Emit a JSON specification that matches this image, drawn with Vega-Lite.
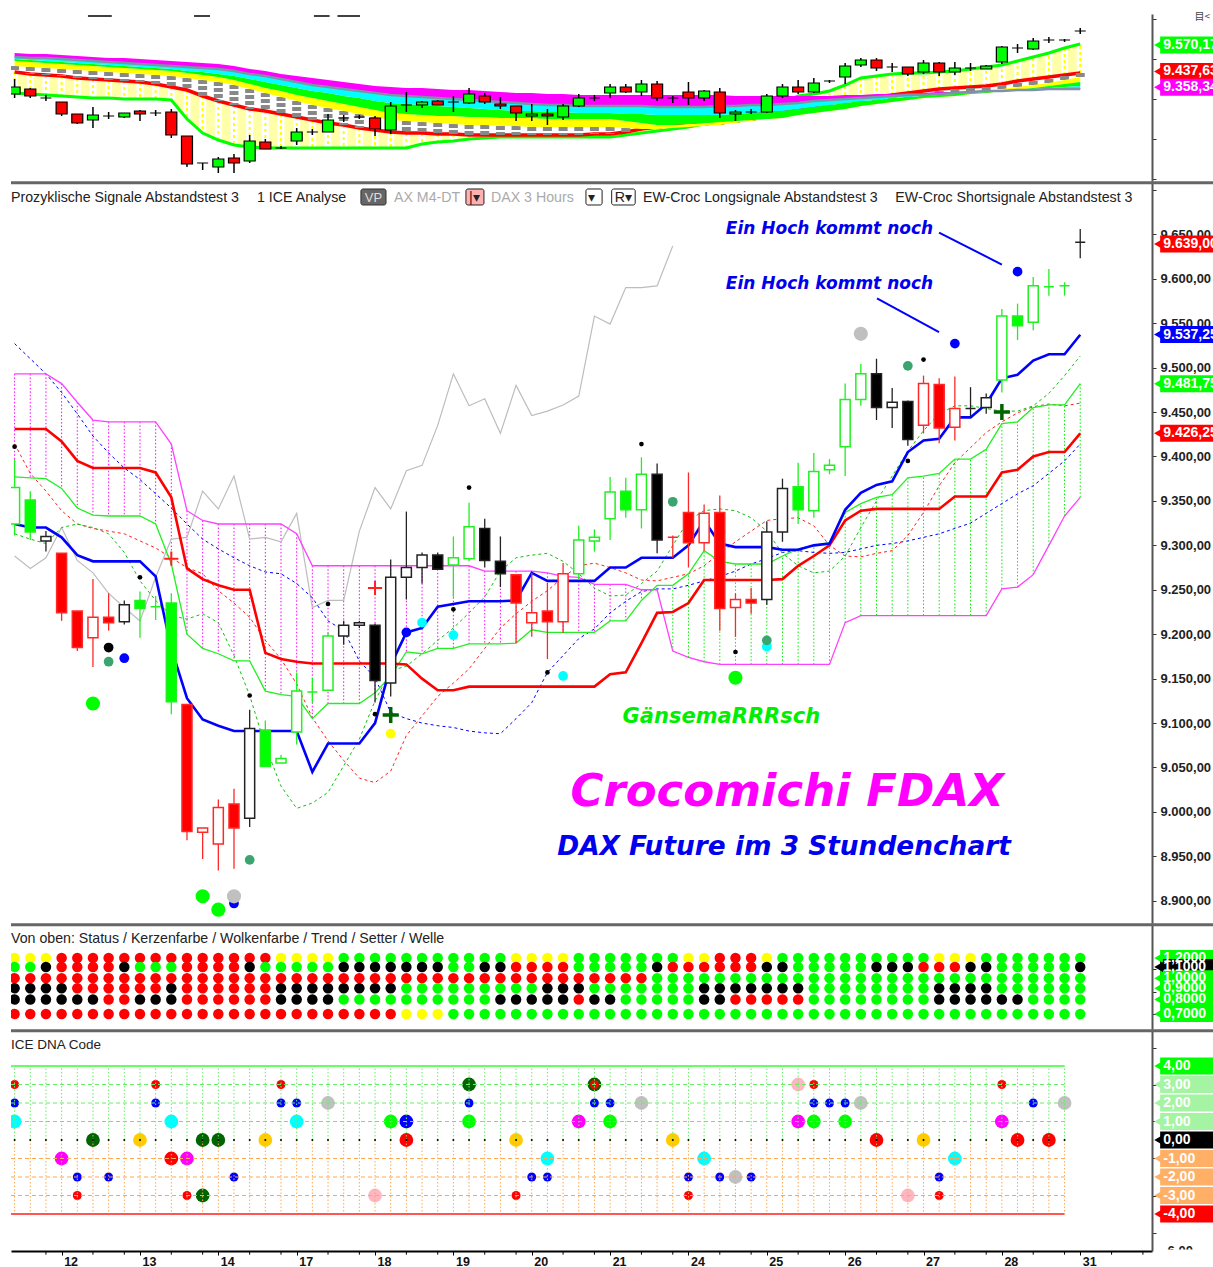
{"$schema":"https://vega.github.io/schema/vega-lite/v6.json","padding":{"left":9,"top":12,"right":0,"bottom":0},"background":"white","spacing":0,"bounds":"flush","config":{"legend":{"disable":true},"view":{"stroke":null},"axis":{"grid":false},"text":{"font":"Liberation Sans"}},
"datasets":{
"top":[
{"i":0,"h":9400,"t":9360,"b":9325,"l":9305,"k":"G","m":9530,"c":9510,"g":9500,"y":9490,"a":9465,"r":9435,"e":9330},
{"i":1,"h":9355,"t":9350,"b":9315,"l":9305,"k":"R","m":9525,"c":9505,"g":9495,"y":9485,"a":9460,"r":9425,"e":9325},
{"i":2,"h":9320,"t":9305,"b":9305,"l":9290,"k":"K","m":9525,"c":9505,"g":9490,"y":9480,"a":9455,"r":9420,"e":9320},
{"i":3,"h":9285,"t":9285,"b":9225,"l":9215,"k":"R","m":9520,"c":9500,"g":9485,"y":9475,"a":9450,"r":9415,"e":9315},
{"i":4,"h":9225,"t":9225,"b":9180,"l":9175,"k":"R","m":9515,"c":9495,"g":9480,"y":9470,"a":9445,"r":9405,"e":9310},
{"i":5,"h":9260,"t":9220,"b":9195,"l":9155,"k":"G","m":9510,"c":9490,"g":9475,"y":9465,"a":9440,"r":9400,"e":9305},
{"i":6,"h":9235,"t":9215,"b":9215,"l":9200,"k":"K","m":9505,"c":9485,"g":9470,"y":9460,"a":9435,"r":9395,"e":9305},
{"i":7,"h":9230,"t":9230,"b":9210,"l":9205,"k":"G","m":9505,"c":9480,"g":9465,"y":9455,"a":9430,"r":9390,"e":9300},
{"i":8,"h":9245,"t":9240,"b":9225,"l":9190,"k":"R","m":9500,"c":9475,"g":9460,"y":9450,"a":9425,"r":9385,"e":9300},
{"i":9,"h":9245,"t":9230,"b":9230,"l":9215,"k":"K","m":9495,"c":9470,"g":9455,"y":9445,"a":9420,"r":9375,"e":9300},
{"i":10,"h":9250,"t":9235,"b":9120,"l":9105,"k":"R","m":9490,"c":9465,"g":9450,"y":9440,"a":9415,"r":9360,"e":9295},
{"i":11,"h":9115,"t":9115,"b":8975,"l":8960,"k":"R","m":9485,"c":9460,"g":9440,"y":9430,"a":9405,"r":9345,"e":9200},
{"i":12,"h":8980,"t":8980,"b":8980,"l":8945,"k":"K","m":9480,"c":9455,"g":9435,"y":9420,"a":9395,"r":9315,"e":9130},
{"i":13,"h":9010,"t":9000,"b":8960,"l":8930,"k":"G","m":9475,"c":9450,"g":9425,"y":9410,"a":9385,"r":9290,"e":9095},
{"i":14,"h":9025,"t":9005,"b":8980,"l":8930,"k":"R","m":9465,"c":9440,"g":9415,"y":9395,"a":9370,"r":9270,"e":9070},
{"i":15,"h":9120,"t":9090,"b":8990,"l":8980,"k":"G","m":9450,"c":9425,"g":9400,"y":9375,"a":9350,"r":9250,"e":9060},
{"i":16,"h":9100,"t":9085,"b":9050,"l":9050,"k":"R","m":9440,"c":9415,"g":9385,"y":9355,"a":9330,"r":9240,"e":9055},
{"i":17,"h":9065,"t":9055,"b":9055,"l":9050,"k":"K","m":9425,"c":9400,"g":9370,"y":9340,"a":9310,"r":9225,"e":9055},
{"i":18,"h":9155,"t":9135,"b":9090,"l":9070,"k":"G","m":9415,"c":9385,"g":9355,"y":9320,"a":9290,"r":9210,"e":9055},
{"i":19,"h":9150,"t":9135,"b":9135,"l":9120,"k":"K","m":9405,"c":9370,"g":9340,"y":9305,"a":9270,"r":9195,"e":9055},
{"i":20,"h":9225,"t":9195,"b":9135,"l":9135,"k":"G","m":9395,"c":9360,"g":9330,"y":9290,"a":9255,"r":9180,"e":9055},
{"i":21,"h":9220,"t":9205,"b":9205,"l":9185,"k":"K","m":9385,"c":9350,"g":9315,"y":9275,"a":9240,"r":9170,"e":9055},
{"i":22,"h":9220,"t":9210,"b":9210,"l":9200,"k":"K","m":9375,"c":9340,"g":9305,"y":9260,"a":9225,"r":9155,"e":9055},
{"i":23,"h":9215,"t":9205,"b":9150,"l":9115,"k":"R","m":9365,"c":9330,"g":9290,"y":9245,"a":9210,"r":9145,"e":9055},
{"i":24,"h":9285,"t":9265,"b":9145,"l":9125,"k":"G","m":9360,"c":9320,"g":9280,"y":9230,"a":9195,"r":9135,"e":9055},
{"i":25,"h":9335,"t":9270,"b":9270,"l":9235,"k":"K","m":9355,"c":9315,"g":9275,"y":9225,"a":9190,"r":9130,"e":9055},
{"i":26,"h":9290,"t":9285,"b":9270,"l":9255,"k":"G","m":9355,"c":9310,"g":9270,"y":9220,"a":9185,"r":9130,"e":9075},
{"i":27,"h":9295,"t":9290,"b":9270,"l":9270,"k":"R","m":9350,"c":9305,"g":9265,"y":9215,"a":9180,"r":9125,"e":9085},
{"i":28,"h":9315,"t":9285,"b":9285,"l":9235,"k":"K","m":9345,"c":9300,"g":9260,"y":9215,"a":9175,"r":9125,"e":9090},
{"i":29,"h":9355,"t":9325,"b":9280,"l":9275,"k":"G","m":9345,"c":9295,"g":9255,"y":9210,"a":9170,"r":9120,"e":9100},
{"i":30,"h":9330,"t":9315,"b":9285,"l":9275,"k":"R","m":9340,"c":9290,"g":9250,"y":9210,"a":9170,"r":9120,"e":9105},
{"i":31,"h":9310,"t":9275,"b":9265,"l":9250,"k":"R","m":9335,"c":9285,"g":9245,"y":9205,"a":9165,"r":9120,"e":9110},
{"i":32,"h":9265,"t":9265,"b":9230,"l":9190,"k":"R","m":9330,"c":9280,"g":9240,"y":9205,"a":9165,"r":9120,"e":9110},
{"i":33,"h":9275,"t":9225,"b":9215,"l":9190,"k":"G","m":9330,"c":9275,"g":9240,"y":9205,"a":9160,"r":9120,"e":9110},
{"i":34,"h":9250,"t":9225,"b":9215,"l":9170,"k":"R","m":9325,"c":9270,"g":9235,"y":9200,"a":9160,"r":9120,"e":9110},
{"i":35,"h":9275,"t":9265,"b":9210,"l":9195,"k":"G","m":9325,"c":9270,"g":9235,"y":9200,"a":9160,"r":9120,"e":9110},
{"i":36,"h":9325,"t":9305,"b":9265,"l":9260,"k":"G","m":9320,"c":9265,"g":9230,"y":9200,"a":9160,"r":9120,"e":9110},
{"i":37,"h":9320,"t":9305,"b":9305,"l":9290,"k":"K","m":9320,"c":9265,"g":9230,"y":9200,"a":9160,"r":9125,"e":9110},
{"i":38,"h":9375,"t":9360,"b":9330,"l":9305,"k":"G","m":9320,"c":9265,"g":9230,"y":9200,"a":9160,"r":9125,"e":9110},
{"i":39,"h":9375,"t":9360,"b":9335,"l":9330,"k":"R","m":9320,"c":9265,"g":9225,"y":9190,"a":9155,"r":9135,"e":9120},
{"i":40,"h":9395,"t":9375,"b":9335,"l":9315,"k":"G","m":9320,"c":9265,"g":9225,"y":9180,"a":9150,"r":9150,"e":9130},
{"i":41,"h":9390,"t":9375,"b":9305,"l":9290,"k":"R","m":9320,"c":9260,"g":9220,"y":9170,"a":9150,"r":9160,"e":9140},
{"i":42,"h":9315,"t":9305,"b":9305,"l":9280,"k":"K","m":9320,"c":9260,"g":9220,"y":9170,"a":9155,"r":9170,"e":9150},
{"i":43,"h":9385,"t":9335,"b":9305,"l":9270,"k":"R","m":9320,"c":9260,"g":9220,"y":9175,"a":9160,"r":9180,"e":9160},
{"i":44,"h":9345,"t":9340,"b":9305,"l":9290,"k":"G","m":9320,"c":9260,"g":9220,"y":9180,"a":9165,"r":9190,"e":9175},
{"i":45,"h":9355,"t":9335,"b":9230,"l":9205,"k":"R","m":9320,"c":9265,"g":9220,"y":9185,"a":9170,"r":9200,"e":9190},
{"i":46,"h":9245,"t":9235,"b":9225,"l":9190,"k":"G","m":9315,"c":9265,"g":9225,"y":9190,"a":9180,"r":9210,"e":9205},
{"i":47,"h":9250,"t":9235,"b":9235,"l":9225,"k":"K","m":9315,"c":9270,"g":9230,"y":9195,"a":9190,"r":9220,"e":9225},
{"i":48,"h":9325,"t":9315,"b":9235,"l":9230,"k":"G","m":9315,"c":9270,"g":9235,"y":9200,"a":9200,"r":9230,"e":9250},
{"i":49,"h":9375,"t":9360,"b":9315,"l":9305,"k":"G","m":9315,"c":9275,"g":9240,"y":9205,"a":9210,"r":9240,"e":9280},
{"i":50,"h":9395,"t":9360,"b":9335,"l":9325,"k":"R","m":9315,"c":9280,"g":9250,"y":9220,"a":9225,"r":9250,"e":9315},
{"i":51,"h":9405,"t":9380,"b":9335,"l":9330,"k":"G","m":9315,"c":9290,"g":9260,"y":9230,"a":9235,"r":9265,"e":9325},
{"i":52,"h":9395,"t":9390,"b":9390,"l":9380,"k":"K","m":9315,"c":9295,"g":9270,"y":9240,"a":9250,"r":9280,"e":9340},
{"i":53,"h":9480,"t":9465,"b":9410,"l":9375,"k":"G","m":9320,"c":9300,"g":9280,"y":9250,"a":9260,"r":9290,"e":9370},
{"i":54,"h":9505,"t":9495,"b":9470,"l":9460,"k":"G","m":9320,"c":9305,"g":9290,"y":9265,"a":9270,"r":9300,"e":9405},
{"i":55,"h":9505,"t":9495,"b":9455,"l":9440,"k":"R","m":9325,"c":9310,"g":9295,"y":9275,"a":9280,"r":9310,"e":9415},
{"i":56,"h":9480,"t":9460,"b":9460,"l":9435,"k":"K","m":9325,"c":9315,"g":9305,"y":9285,"a":9290,"r":9320,"e":9425},
{"i":57,"h":9460,"t":9460,"b":9425,"l":9415,"k":"R","m":9330,"c":9320,"g":9310,"y":9295,"a":9300,"r":9330,"e":9430},
{"i":58,"h":9495,"t":9480,"b":9435,"l":9425,"k":"G","m":9330,"c":9320,"g":9315,"y":9305,"a":9310,"r":9340,"e":9430},
{"i":59,"h":9485,"t":9480,"b":9435,"l":9415,"k":"R","m":9335,"c":9325,"g":9320,"y":9310,"a":9320,"r":9350,"e":9435},
{"i":60,"h":9485,"t":9455,"b":9435,"l":9420,"k":"G","m":9335,"c":9330,"g":9325,"y":9315,"a":9330,"r":9355,"e":9440},
{"i":61,"h":9480,"t":9455,"b":9455,"l":9440,"k":"K","m":9340,"c":9335,"g":9330,"y":9325,"a":9335,"r":9360,"e":9450},
{"i":62,"h":9470,"t":9465,"b":9450,"l":9450,"k":"G","m":9340,"c":9340,"g":9335,"y":9330,"a":9340,"r":9365,"e":9460},
{"i":63,"h":9565,"t":9560,"b":9485,"l":9475,"k":"G","m":9340,"c":9340,"g":9340,"y":9340,"a":9350,"r":9375,"e":9470},
{"i":64,"h":9575,"t":9555,"b":9555,"l":9530,"k":"K","m":9345,"c":9345,"g":9345,"y":9345,"a":9360,"r":9390,"e":9490},
{"i":65,"h":9605,"t":9590,"b":9550,"l":9545,"k":"G","m":9345,"c":9345,"g":9350,"y":9355,"a":9370,"r":9400,"e":9510},
{"i":66,"h":9610,"t":9595,"b":9595,"l":9580,"k":"K","m":9350,"c":9350,"g":9355,"y":9365,"a":9380,"r":9410,"e":9530},
{"i":67,"h":9600,"t":9595,"b":9595,"l":9585,"k":"K","m":9350,"c":9350,"g":9360,"y":9375,"a":9395,"r":9420,"e":9555},
{"i":68,"h":9655,"t":9640,"b":9640,"l":9625,"k":"K","m":9355,"c":9350,"g":9365,"y":9385,"a":9410,"r":9430,"e":9575}
],
"main":[
{"i":0,"h":9397,"t":9365,"b":9324,"l":9311,"k":"G","f":"W","B":9324,"R":9431,"M":9493,"N":9377,"d":9527,"e":9414,"g":9313,"a":9288},
{"i":1,"h":9361,"t":9351,"b":9315,"l":9306,"k":"G","f":"G","B":9320,"R":9431,"M":9493,"N":9376,"d":9510,"e":9381,"g":9307,"a":9274},
{"i":2,"h":9316,"t":9310,"b":9305,"l":9293,"k":"K","f":"W","B":9320,"R":9431,"M":9493,"N":9375,"d":9493,"e":9361,"g":9302,"a":9286},
{"i":3,"h":9291,"t":9291,"b":9224,"l":9215,"k":"R","f":"R","B":9309,"R":9417,"M":9482,"N":9364,"d":9472,"e":9339,"g":9320,"a":9320},
{"i":4,"h":9226,"t":9226,"b":9185,"l":9181,"k":"R","f":"R","B":9289,"R":9395,"M":9461,"N":9342,"d":9448,"e":9324,"g":9324,"a":9283},
{"i":5,"h":9262,"t":9219,"b":9196,"l":9163,"k":"R","f":"W","B":9282,"R":9387,"M":9441,"N":9334,"d":9423,"e":9319,"g":9320,"a":9269},
{"i":6,"h":9246,"t":9219,"b":9213,"l":9204,"k":"R","f":"R","B":9282,"R":9387,"M":9439,"N":9333,"d":9404,"e":9316,"g":9313,"a":9246},
{"i":7,"h":9238,"t":9233,"b":9214,"l":9211,"k":"K","f":"W","B":9282,"R":9387,"M":9439,"N":9333,"d":9387,"e":9313,"g":9292,"a":9230},
{"i":8,"h":9248,"t":9238,"b":9229,"l":9196,"k":"G","f":"G","B":9282,"R":9387,"M":9439,"N":9333,"d":9374,"e":9305,"g":9260,"a":9215},
{"i":9,"h":9243,"t":9231,"b":9231,"l":9216,"k":"G","f":"G","B":9265,"R":9382,"M":9439,"N":9324,"d":9358,"e":9297,"g":9238,"a":9264},
{"i":10,"h":9246,"t":9235,"b":9124,"l":9110,"k":"G","f":"G","B":9184,"R":9354,"M":9414,"N":9279,"d":9342,"e":9286,"g":9221,"a":9307},
{"i":11,"h":9121,"t":9121,"b":8978,"l":8968,"k":"R","f":"R","B":9128,"R":9274,"M":9339,"N":9200,"d":9324,"e":9275,"g":9217,"a":9309},
{"i":12,"h":8982,"t":8982,"b":8977,"l":8947,"k":"R","f":"W","B":9104,"R":9262,"M":9328,"N":9184,"d":9307,"e":9268,"g":9223,"a":9361},
{"i":13,"h":9014,"t":9005,"b":8964,"l":8934,"k":"R","f":"W","B":9097,"R":9255,"M":9324,"N":9178,"d":9296,"e":9249,"g":9213,"a":9341},
{"i":14,"h":9026,"t":9009,"b":8982,"l":8936,"k":"R","f":"R","B":9091,"R":9250,"M":9324,"N":9170,"d":9286,"e":9235,"g":9176,"a":9378},
{"i":15,"h":9115,"t":9094,"b":8993,"l":8983,"k":"K","f":"W","B":9091,"R":9250,"M":9324,"N":9170,"d":9277,"e":9219,"g":9131,"a":9307},
{"i":16,"h":9103,"t":9092,"b":9051,"l":9051,"k":"G","f":"G","B":9091,"R":9179,"M":9324,"N":9136,"d":9270,"e":9193,"g":9074,"a":9309},
{"i":17,"h":9064,"t":9060,"b":9055,"l":9055,"k":"G","f":"W","B":9091,"R":9172,"M":9324,"N":9132,"d":9268,"e":9172,"g":9029,"a":9304},
{"i":18,"h":9157,"t":9136,"b":9090,"l":9076,"k":"G","f":"W","B":9091,"R":9169,"M":9313,"N":9130,"d":9257,"e":9144,"g":9004,"a":9336},
{"i":19,"h":9151,"t":9135,"b":9135,"l":9123,"k":"G","f":"G","B":9045,"R":9167,"M":9277,"N":9105,"d":9241,"e":9106,"g":9010,"a":9230},
{"i":20,"h":9202,"t":9198,"b":9137,"l":9137,"k":"G","f":"W","B":9077,"R":9167,"M":9277,"N":9122,"d":9215,"e":9080,"g":9022,"a":9238},
{"i":21,"h":9215,"t":9210,"b":9198,"l":9188,"k":"K","f":"W","B":9077,"R":9167,"M":9277,"N":9122,"d":9204,"e":9058,"g":9052,"a":9238},
{"i":22,"h":9215,"t":9213,"b":9210,"l":9207,"k":"K","f":"W","B":9077,"R":9167,"M":9277,"N":9122,"d":9170,"e":9038,"g":9082,"a":9316},
{"i":23,"h":9212,"t":9210,"b":9148,"l":9123,"k":"K","f":"K","B":9100,"R":9167,"M":9277,"N":9134,"d":9151,"e":9033,"g":9125,"a":9365},
{"i":24,"h":9284,"t":9264,"b":9145,"l":9130,"k":"K","f":"W","B":9165,"R":9167,"M":9277,"N":9153,"d":9112,"e":9046,"g":9159,"a":9341},
{"i":25,"h":9338,"t":9275,"b":9264,"l":9239,"k":"K","f":"W","B":9202,"R":9166,"M":9277,"N":9180,"d":9105,"e":9086,"g":9164,"a":9384},
{"i":26,"h":9292,"t":9289,"b":9275,"l":9257,"k":"K","f":"W","B":9207,"R":9150,"M":9277,"N":9178,"d":9100,"e":9108,"g":9178,"a":9390},
{"i":27,"h":9292,"t":9289,"b":9273,"l":9273,"k":"K","f":"K","B":9231,"R":9137,"M":9277,"N":9184,"d":9097,"e":9130,"g":9193,"a":9435},
{"i":28,"h":9310,"t":9286,"b":9278,"l":9242,"k":"G","f":"W","B":9234,"R":9137,"M":9277,"N":9184,"d":9095,"e":9145,"g":9207,"a":9493},
{"i":29,"h":9348,"t":9321,"b":9285,"l":9282,"k":"G","f":"W","B":9237,"R":9141,"M":9277,"N":9189,"d":9091,"e":9161,"g":9224,"a":9457},
{"i":30,"h":9330,"t":9319,"b":9283,"l":9275,"k":"K","f":"K","B":9237,"R":9141,"M":9271,"N":9189,"d":9089,"e":9184,"g":9242,"a":9465},
{"i":31,"h":9310,"t":9282,"b":9268,"l":9253,"k":"K","f":"K","B":9237,"R":9141,"M":9271,"N":9189,"d":9088,"e":9207,"g":9271,"a":9426},
{"i":32,"h":9267,"t":9267,"b":9235,"l":9190,"k":"R","f":"R","B":9238,"R":9141,"M":9271,"N":9190,"d":9105,"e":9223,"g":9286,"a":9480},
{"i":33,"h":9269,"t":9224,"b":9213,"l":9197,"k":"R","f":"W","B":9269,"R":9141,"M":9271,"N":9205,"d":9123,"e":9237,"g":9289,"a":9446},
{"i":34,"h":9258,"t":9226,"b":9214,"l":9172,"k":"R","f":"R","B":9260,"R":9141,"M":9269,"N":9202,"d":9157,"e":9249,"g":9291,"a":9451},
{"i":35,"h":9280,"t":9268,"b":9214,"l":9201,"k":"R","f":"W","B":9260,"R":9141,"M":9265,"N":9202,"d":9176,"e":9264,"g":9282,"a":9458},
{"i":36,"h":9322,"t":9306,"b":9268,"l":9262,"k":"G","f":"W","B":9260,"R":9141,"M":9264,"N":9202,"d":9195,"e":9277,"g":9268,"a":9468},
{"i":37,"h":9318,"t":9309,"b":9305,"l":9293,"k":"G","f":"W","B":9260,"R":9141,"M":9256,"N":9202,"d":9206,"e":9280,"g":9252,"a":9558},
{"i":38,"h":9377,"t":9360,"b":9330,"l":9306,"k":"G","f":"W","B":9275,"R":9155,"M":9256,"N":9215,"d":9224,"e":9275,"g":9243,"a":9549},
{"i":39,"h":9376,"t":9361,"b":9340,"l":9331,"k":"G","f":"G","B":9275,"R":9157,"M":9256,"N":9215,"d":9237,"e":9269,"g":9244,"a":9590},
{"i":40,"h":9399,"t":9380,"b":9340,"l":9319,"k":"G","f":"W","B":9286,"R":9190,"M":9250,"N":9238,"d":9248,"e":9261,"g":9257,"a":9590},
{"i":41,"h":9392,"t":9380,"b":9306,"l":9291,"k":"K","f":"K","B":9286,"R":9224,"M":9250,"N":9255,"d":9251,"e":9260,"g":9271,"a":9592},
{"i":42,"h":9311,"t":9309,"b":9309,"l":9286,"k":"R","f":"R","B":9286,"R":9225,"M":9181,"N":9255,"d":9251,"e":9264,"g":9300,"a":9637},
{"i":43,"h":9382,"t":9337,"b":9303,"l":9275,"k":"R","f":"R","B":9300,"R":9235,"M":9174,"N":9268,"d":9255,"e":9268,"g":9328},
{"i":44,"h":9346,"t":9336,"b":9303,"l":9294,"k":"R","f":"W","B":9328,"R":9261,"M":9169,"N":9294,"d":9260,"e":9277,"g":9339},
{"i":45,"h":9356,"t":9337,"b":9229,"l":9204,"k":"R","f":"R","B":9302,"R":9261,"M":9166,"N":9282,"d":9265,"e":9291,"g":9341},
{"i":46,"h":9246,"t":9239,"b":9230,"l":9197,"k":"R","f":"W","B":9298,"R":9261,"M":9166,"N":9279,"d":9271,"e":9304,"g":9339},
{"i":47,"h":9252,"t":9239,"b":9235,"l":9223,"k":"R","f":"R","B":9298,"R":9261,"M":9166,"N":9279,"d":9279,"e":9316,"g":9331},
{"i":48,"h":9327,"t":9315,"b":9239,"l":9233,"k":"K","f":"W","B":9298,"R":9261,"M":9166,"N":9279,"d":9285,"e":9328,"g":9316},
{"i":49,"h":9375,"t":9364,"b":9315,"l":9304,"k":"K","f":"W","B":9295,"R":9262,"M":9166,"N":9288,"d":9292,"e":9330,"g":9291},
{"i":50,"h":9393,"t":9366,"b":9340,"l":9324,"k":"G","f":"G","B":9295,"R":9277,"M":9166,"N":9296,"d":9294,"e":9331,"g":9277},
{"i":51,"h":9404,"t":9383,"b":9339,"l":9331,"k":"G","f":"W","B":9300,"R":9288,"M":9166,"N":9300,"d":9292,"e":9322,"g":9269},
{"i":52,"h":9397,"t":9390,"b":9385,"l":9380,"k":"G","f":"W","B":9302,"R":9300,"M":9166,"N":9303,"d":9291,"e":9300,"g":9271},
{"i":53,"h":9482,"t":9464,"b":9411,"l":9378,"k":"G","f":"W","B":9340,"R":9328,"M":9213,"N":9337,"d":9292,"e":9288,"g":9288},
{"i":54,"h":9504,"t":9493,"b":9464,"l":9457,"k":"G","f":"W","B":9359,"R":9339,"M":9221,"N":9347,"d":9296,"e":9287,"g":9320},
{"i":55,"h":9510,"t":9493,"b":9455,"l":9441,"k":"K","f":"K","B":9368,"R":9341,"M":9221,"N":9354,"d":9300,"e":9291,"g":9350},
{"i":56,"h":9477,"t":9461,"b":9455,"l":9432,"k":"K","f":"W","B":9372,"R":9341,"M":9221,"N":9357,"d":9302,"e":9294,"g":9378},
{"i":57,"h":9463,"t":9462,"b":9419,"l":9412,"k":"K","f":"K","B":9405,"R":9341,"M":9221,"N":9376,"d":9305,"e":9311,"g":9406},
{"i":58,"h":9491,"t":9482,"b":9435,"l":9426,"k":"R","f":"W","B":9418,"R":9341,"M":9221,"N":9378,"d":9309,"e":9337,"g":9429},
{"i":59,"h":9488,"t":9481,"b":9432,"l":9415,"k":"R","f":"R","B":9420,"R":9341,"M":9221,"N":9381,"d":9313,"e":9367,"g":9448},
{"i":60,"h":9490,"t":9454,"b":9433,"l":9418,"k":"R","f":"W","B":9444,"R":9355,"M":9221,"N":9397,"d":9319,"e":9393,"g":9457},
{"i":61,"h":9478,"t":9454,"b":9454,"l":9445,"k":"K","f":"K","B":9444,"R":9355,"M":9221,"N":9397,"d":9325,"e":9410,"g":9457},
{"i":62,"h":9471,"t":9466,"b":9455,"l":9448,"k":"K","f":"W","B":9459,"R":9355,"M":9221,"N":9408,"d":9336,"e":9427,"g":9454},
{"i":63,"h":9566,"t":9558,"b":9486,"l":9472,"k":"G","f":"W","B":9488,"R":9382,"M":9251,"N":9437,"d":9347,"e":9439,"g":9451},
{"i":64,"h":9572,"t":9558,"b":9547,"l":9531,"k":"G","f":"G","B":9492,"R":9385,"M":9253,"N":9439,"d":9358,"e":9449,"g":9451},
{"i":65,"h":9602,"t":9592,"b":9551,"l":9542,"k":"G","f":"W","B":9508,"R":9400,"M":9267,"N":9455,"d":9367,"e":9456,"g":9457},
{"i":66,"h":9611,"t":9591,"b":9591,"l":9581,"k":"G","f":"G","B":9515,"R":9405,"M":9300,"N":9458,"d":9381,"e":9459,"g":9471},
{"i":67,"h":9596,"t":9592,"b":9592,"l":9581,"k":"G","f":"G","B":9515,"R":9405,"M":9333,"N":9458,"d":9395,"e":9457,"g":9491},
{"i":68,"h":9656,"t":9641,"b":9641,"l":9623,"k":"K","f":"K","B":9537,"R":9426,"M":9354,"N":9482,"d":9414,"e":9460,"g":9513}
],
"dots":[
{"i":0,"v":9411,"c":"K","g":"s"},{"i":8,"v":9264,"c":"K","g":"s"},{"i":20,"v":9234,"c":"K","g":"s"},{"i":15,"v":9131,"c":"K","g":"s"},{"i":23,"v":9110,"c":"K","g":"s"},{"i":28,"v":9228,"c":"K","g":"s"},{"i":29,"v":9365,"c":"K","g":"s"},{"i":34,"v":9157,"c":"K","g":"s"},{"i":40,"v":9414,"c":"K","g":"s"},{"i":46,"v":9180,"c":"K","g":"s"},{"i":57,"v":9395,"c":"K","g":"s"},{"i":58,"v":9509,"c":"K","g":"s"},
{"i":6,"v":9185,"c":"K","g":"m"},{"i":7,"v":9173,"c":"B","g":"m"},{"i":6,"v":9169,"c":"T","g":"m"},{"i":15,"v":8946,"c":"T","g":"m"},{"i":14,"v":8897,"c":"B","g":"m"},{"i":24,"v":9088,"c":"Y","g":"m"},{"i":25,"v":9202,"c":"B","g":"m"},{"i":26,"v":9213,"c":"C","g":"m"},{"i":28,"v":9199,"c":"C","g":"m"},{"i":35,"v":9153,"c":"C","g":"m"},{"i":42,"v":9349,"c":"T","g":"m"},{"i":48,"v":9186,"c":"C","g":"m"},{"i":48,"v":9193,"c":"T","g":"m"},{"i":57,"v":9502,"c":"T","g":"m"},{"i":60,"v":9527,"c":"B","g":"m"},{"i":64,"v":9608,"c":"B","g":"m"},
{"i":5,"v":9122,"c":"G","g":"l"},{"i":12,"v":8905,"c":"G","g":"l"},{"i":13,"v":8890,"c":"G","g":"l"},{"i":14,"v":8905,"c":"S","g":"l"},{"i":46,"v":9151,"c":"G","g":"l"},{"i":54,"v":9538,"c":"S","g":"l"}],
"stat":[
{"i":0,"s":"Y","k":"G","w":"R","t":"K","e":"K","v":"R"},{"i":1,"s":"Y","k":"G","w":"R","t":"K","e":"K","v":"R"},{"i":2,"s":"Y","k":"K","w":"R","t":"K","e":"K","v":"R"},{"i":3,"s":"R","k":"R","w":"R","t":"K","e":"K","v":"R"},{"i":4,"s":"R","k":"R","w":"R","t":"R","e":"K","v":"R"},{"i":5,"s":"R","k":"R","w":"R","t":"R","e":"K","v":"R"},{"i":6,"s":"R","k":"R","w":"R","t":"R","e":"R","v":"R"},{"i":7,"s":"R","k":"K","w":"R","t":"R","e":"R","v":"R"},{"i":8,"s":"R","k":"G","w":"R","t":"R","e":"K","v":"R"},{"i":9,"s":"R","k":"G","w":"R","t":"R","e":"K","v":"R"},{"i":10,"s":"R","k":"G","w":"R","t":"K","e":"K","v":"R"},{"i":11,"s":"R","k":"R","w":"R","t":"R","e":"R","v":"R"},{"i":12,"s":"R","k":"R","w":"R","t":"R","e":"R","v":"R"},{"i":13,"s":"R","k":"R","w":"R","t":"R","e":"R","v":"R"},{"i":14,"s":"R","k":"R","w":"R","t":"R","e":"R","v":"R"},{"i":15,"s":"R","k":"K","w":"R","t":"R","e":"R","v":"R"},{"i":16,"s":"R","k":"G","w":"R","t":"R","e":"R","v":"R"},{"i":17,"s":"Y","k":"G","w":"R","t":"K","e":"K","v":"R"},{"i":18,"s":"Y","k":"G","w":"R","t":"K","e":"K","v":"R"},{"i":19,"s":"Y","k":"G","w":"R","t":"K","e":"K","v":"R"},{"i":20,"s":"Y","k":"G","w":"R","t":"K","e":"K","v":"R"},{"i":21,"s":"G","k":"K","w":"R","t":"K","e":"G","v":"R"},{"i":22,"s":"G","k":"K","w":"R","t":"K","e":"G","v":"R"},{"i":23,"s":"G","k":"K","w":"R","t":"K","e":"G","v":"R"},{"i":24,"s":"G","k":"K","w":"R","t":"K","e":"G","v":"R"},{"i":25,"s":"G","k":"K","w":"R","t":"G","e":"G","v":"Y"},{"i":26,"s":"G","k":"K","w":"R","t":"G","e":"G","v":"Y"},{"i":27,"s":"G","k":"K","w":"R","t":"G","e":"G","v":"Y"},{"i":28,"s":"G","k":"G","w":"R","t":"G","e":"G","v":"G"},{"i":29,"s":"G","k":"G","w":"R","t":"G","e":"G","v":"G"},{"i":30,"s":"G","k":"K","w":"R","t":"G","e":"G","v":"G"},{"i":31,"s":"G","k":"K","w":"R","t":"G","e":"K","v":"G"},{"i":32,"s":"Y","k":"R","w":"R","t":"G","e":"K","v":"G"},{"i":33,"s":"Y","k":"R","w":"R","t":"G","e":"K","v":"G"},{"i":34,"s":"Y","k":"R","w":"R","t":"K","e":"K","v":"G"},{"i":35,"s":"Y","k":"R","w":"R","t":"K","e":"K","v":"G"},{"i":36,"s":"G","k":"G","w":"R","t":"K","e":"R","v":"G"},{"i":37,"s":"G","k":"G","w":"R","t":"G","e":"K","v":"G"},{"i":38,"s":"G","k":"G","w":"R","t":"G","e":"K","v":"G"},{"i":39,"s":"G","k":"G","w":"R","t":"G","e":"G","v":"G"},{"i":40,"s":"G","k":"G","w":"R","t":"G","e":"G","v":"G"},{"i":41,"s":"G","k":"K","w":"G","t":"G","e":"G","v":"G"},{"i":42,"s":"G","k":"R","w":"G","t":"G","e":"G","v":"G"},{"i":43,"s":"Y","k":"R","w":"G","t":"G","e":"G","v":"G"},{"i":44,"s":"Y","k":"R","w":"G","t":"K","e":"K","v":"G"},{"i":45,"s":"R","k":"R","w":"G","t":"K","e":"K","v":"G"},{"i":46,"s":"R","k":"R","w":"G","t":"K","e":"R","v":"G"},{"i":47,"s":"R","k":"R","w":"G","t":"K","e":"R","v":"G"},{"i":48,"s":"Y","k":"K","w":"G","t":"K","e":"R","v":"G"},{"i":49,"s":"G","k":"K","w":"G","t":"K","e":"R","v":"G"},{"i":50,"s":"G","k":"G","w":"G","t":"K","e":"R","v":"G"},{"i":51,"s":"G","k":"G","w":"G","t":"G","e":"G","v":"G"},{"i":52,"s":"G","k":"G","w":"G","t":"G","e":"G","v":"G"},{"i":53,"s":"G","k":"G","w":"G","t":"G","e":"G","v":"G"},{"i":54,"s":"G","k":"G","w":"G","t":"G","e":"G","v":"G"},{"i":55,"s":"G","k":"K","w":"G","t":"G","e":"G","v":"G"},{"i":56,"s":"G","k":"K","w":"G","t":"G","e":"G","v":"G"},{"i":57,"s":"G","k":"K","w":"G","t":"G","e":"G","v":"G"},{"i":58,"s":"G","k":"R","w":"G","t":"G","e":"G","v":"G"},{"i":59,"s":"Y","k":"R","w":"G","t":"K","e":"K","v":"G"},{"i":60,"s":"Y","k":"R","w":"G","t":"K","e":"K","v":"G"},{"i":61,"s":"Y","k":"K","w":"G","t":"K","e":"K","v":"G"},{"i":62,"s":"G","k":"K","w":"G","t":"K","e":"K","v":"G"},{"i":63,"s":"G","k":"G","w":"G","t":"G","e":"K","v":"G"},{"i":64,"s":"G","k":"G","w":"G","t":"G","e":"K","v":"G"},{"i":65,"s":"G","k":"G","w":"G","t":"G","e":"G","v":"G"},{"i":66,"s":"G","k":"G","w":"G","t":"G","e":"G","v":"G"},{"i":67,"s":"G","k":"G","w":"G","t":"G","e":"G","v":"G"},{"i":68,"s":"G","k":"K","w":"G","t":"G","e":"G","v":"G"}],
"dna":[
{"i":37,"v":3,"c":"D","g":"l"},{"i":29,"v":3,"c":"D","g":"l"},{"i":50,"v":3,"c":"P","g":"l"},{"i":0,"v":3,"c":"R","g":"s"},{"i":9,"v":3,"c":"R","g":"s"},{"i":17,"v":3,"c":"R","g":"s"},{"i":37,"v":3,"c":"R","g":"s"},{"i":51,"v":3,"c":"R","g":"s"},{"i":63,"v":3,"c":"R","g":"s"},
{"i":0,"v":2,"c":"B","g":"s"},{"i":9,"v":2,"c":"B","g":"s"},{"i":17,"v":2,"c":"B","g":"s"},{"i":18,"v":2,"c":"B","g":"s"},{"i":20,"v":2,"c":"S","g":"l"},{"i":29,"v":2,"c":"B","g":"s"},{"i":37,"v":2,"c":"B","g":"s"},{"i":38,"v":2,"c":"B","g":"s"},{"i":40,"v":2,"c":"S","g":"l"},{"i":51,"v":2,"c":"B","g":"s"},{"i":52,"v":2,"c":"B","g":"s"},{"i":53,"v":2,"c":"B","g":"s"},{"i":54,"v":2,"c":"S","g":"l"},{"i":65,"v":2,"c":"B","g":"s"},{"i":67,"v":2,"c":"S","g":"l"},
{"i":0,"v":1,"c":"C","g":"l"},{"i":10,"v":1,"c":"C","g":"l"},{"i":18,"v":1,"c":"C","g":"l"},{"i":24,"v":1,"c":"G","g":"l"},{"i":25,"v":1,"c":"B","g":"l"},{"i":29,"v":1,"c":"G","g":"l"},{"i":36,"v":1,"c":"M","g":"l"},{"i":38,"v":1,"c":"G","g":"l"},{"i":50,"v":1,"c":"M","g":"l"},{"i":51,"v":1,"c":"G","g":"l"},{"i":53,"v":1,"c":"G","g":"l"},{"i":63,"v":1,"c":"M","g":"l"},
{"i":5,"v":0,"c":"D","g":"l"},{"i":8,"v":0,"c":"O","g":"l"},{"i":12,"v":0,"c":"D","g":"l"},{"i":13,"v":0,"c":"D","g":"l"},{"i":16,"v":0,"c":"O","g":"l"},{"i":25,"v":0,"c":"R","g":"l"},{"i":32,"v":0,"c":"O","g":"l"},{"i":42,"v":0,"c":"O","g":"l"},{"i":55,"v":0,"c":"R","g":"l"},{"i":58,"v":0,"c":"O","g":"l"},{"i":64,"v":0,"c":"R","g":"l"},{"i":66,"v":0,"c":"R","g":"l"},
{"i":3,"v":-1,"c":"M","g":"l"},{"i":10,"v":-1,"c":"R","g":"l"},{"i":11,"v":-1,"c":"M","g":"l"},{"i":34,"v":-1,"c":"C","g":"l"},{"i":44,"v":-1,"c":"C","g":"l"},{"i":60,"v":-1,"c":"C","g":"l"},
{"i":4,"v":-2,"c":"B","g":"s"},{"i":6,"v":-2,"c":"B","g":"s"},{"i":14,"v":-2,"c":"B","g":"s"},{"i":33,"v":-2,"c":"B","g":"s"},{"i":34,"v":-2,"c":"B","g":"s"},{"i":43,"v":-2,"c":"B","g":"s"},{"i":45,"v":-2,"c":"B","g":"s"},{"i":46,"v":-2,"c":"S","g":"l"},{"i":47,"v":-2,"c":"B","g":"s"},{"i":59,"v":-2,"c":"B","g":"s"},
{"i":4,"v":-3,"c":"R","g":"s"},{"i":11,"v":-3,"c":"R","g":"s"},{"i":12,"v":-3,"c":"D","g":"l"},{"i":23,"v":-3,"c":"P","g":"l"},{"i":32,"v":-3,"c":"R","g":"s"},{"i":43,"v":-3,"c":"R","g":"s"},{"i":57,"v":-3,"c":"P","g":"l"},{"i":59,"v":-3,"c":"R","g":"s"}]
},
"vconcat":[
{"width":1141,"height":167,"encoding":{"x":{"field":"i","type":"quantitative","axis":null,"scale":{"domain":[-0.23,72.58],"nice":false,"zero":false,"padding":0}}},
"layer":[
{"data":{"name":"top"},"mark":{"type":"area","fill":"#ffffa8","clip":true},"encoding":{"y":{"field":"r","type":"quantitative","scale":{"domain":[8890,9725],"nice":false,"zero":false,"padding":0},"axis":{"title":null,"orient":"right","values":[8900,9000,9100,9200,9300,9400,9500,9600,9700],"tickSize":4,"tickColor":"#333","domainColor":"#555","domainWidth":2,"labelPadding":4,"labelColor":"#222","labelFont":"Liberation Sans","labelFontWeight":"bold","labelFontSize":13,"labelOverlap":false,"labelExpr":"(datum.value==9000||datum.value==9200)?replace(replace(replace(format(datum.value,',.2f'),',','#'),'.',','),'#','.'):''"}},"y2":{"field":"e"}}},
{"data":{"name":"top"},"mark":{"type":"rule","stroke":"white","strokeWidth":7,"clip":true},"encoding":{"y":{"field":"r","type":"quantitative"},"y2":{"field":"e"}}},
{"data":{"name":"top"},"mark":{"type":"rule","stroke":"#ffff00","strokeWidth":2,"strokeDash":[3,3],"clip":true},"encoding":{"y":{"field":"r","type":"quantitative"},"y2":{"field":"e"}}},
{"data":{"name":"top"},"mark":{"type":"line","stroke":"#00ff00","strokeWidth":3,"clip":true},"encoding":{"y":{"field":"e","type":"quantitative"}}},
{"data":{"name":"top"},"mark":{"type":"line","stroke":"#ff0000","strokeWidth":3.5,"clip":true},"encoding":{"y":{"field":"r","type":"quantitative"}}},
{"data":{"name":"top"},"mark":{"type":"rule","stroke":"#888888","strokeWidth":9,"strokeDash":[4,2],"clip":true},"encoding":{"y":{"field":"a","type":"quantitative"},"y2":{"field":"r"}}},
{"data":{"name":"top"},"mark":{"type":"area","fill":"#ffff00","clip":true},"encoding":{"y":{"field":"a","type":"quantitative"},"y2":{"field":"y"}}},
{"data":{"name":"top"},"mark":{"type":"area","fill":"#00ff00","clip":true},"encoding":{"y":{"field":"y","type":"quantitative"},"y2":{"field":"g"}}},
{"data":{"name":"top"},"mark":{"type":"area","fill":"#00ffff","clip":true},"encoding":{"y":{"field":"g","type":"quantitative"},"y2":{"field":"c"}}},
{"data":{"name":"top"},"mark":{"type":"area","fill":"#ff00ff","clip":true},"encoding":{"y":{"field":"c","type":"quantitative"},"y2":{"field":"m"}}},
{"data":{"name":"top"},"mark":{"type":"line","stroke":"#8090a8","strokeWidth":2.5,"clip":true},"encoding":{"y":{"field":"c","type":"quantitative"}}},
{"data":{"name":"top"},"mark":{"type":"rule","stroke":"#000000","strokeWidth":1.5,"clip":true},"encoding":{"y":{"field":"h","type":"quantitative"},"y2":{"field":"l"}}},
{"data":{"name":"top"},"mark":{"type":"bar","size":11,"orient":"vertical","stroke":"#000000","strokeWidth":1.2,"clip":true},"encoding":{"y":{"field":"t","type":"quantitative"},"y2":{"field":"b"},"fill":{"field":"k","type":"nominal","scale":{"domain":["G","R","K","Y","B","C","M","D","O","P","S","T","L","A","W"],"range":["#00ff00","#ff0000","#000000","#ffff00","#0000ff","#00ffff","#ff00ff","#006400","#ffcc00","#ffb6c1","#c0c0c0","#3aa56f","#a4f4a4","#ffb066","#ffffff"]}}}},
{"data":{"values":[{"x":4.68,"x2":6.2,"v":9715},{"x":11.45,"x2":12.47,"v":9715},{"x":19.1,"x2":20.1,"v":9715},{"x":20.6,"x2":22.04,"v":9715}]},"mark":{"type":"rule","stroke":"#000000","strokeWidth":1.5},"encoding":{"x":{"field":"x","type":"quantitative"},"x2":{"field":"x2"},"y":{"field":"v","type":"quantitative"}}},
{"data":{"values":[{"x":75.3,"v":9710,"t":"目<"}]},"mark":{"type":"text","align":"left","baseline":"middle","font":"Noto Sans CJK SC","fontSize":10,"fill":"#444444"},"encoding":{"x":{"field":"x","type":"quantitative"},"y":{"field":"v","type":"quantitative"},"text":{"field":"t"}}},
{"data":{"values":[{"x":73.1,"x2":79,"v":9570.17,"c":"G"},{"x":73.1,"x2":79,"v":9437.63,"c":"R"},{"x":73.1,"x2":79,"v":9358.34,"c":"M"}]},"mark":{"type":"bar","size":17,"orient":"horizontal"},"encoding":{"x":{"field":"x","type":"quantitative"},"x2":{"field":"x2"},"y":{"field":"v","type":"quantitative"},"fill":{"field":"c","type":"nominal","scale":{"domain":["G","R","K","Y","B","C","M","D","O","P","S","T","L","A","W"],"range":["#00ff00","#ff0000","#000000","#ffff00","#0000ff","#00ffff","#ff00ff","#006400","#ffcc00","#ffb6c1","#c0c0c0","#3aa56f","#a4f4a4","#ffb066","#ffffff"]}}}},
{"data":{"values":[{"x":73,"v":9570.17,"c":"G"},{"x":73,"v":9437.63,"c":"R"},{"x":73,"v":9358.34,"c":"M"}]},"mark":{"type":"point","shape":"triangle-left","filled":true,"size":110,"opacity":1},"encoding":{"x":{"field":"x","type":"quantitative"},"y":{"field":"v","type":"quantitative"},"fill":{"field":"c","type":"nominal","scale":{"domain":["G","R","K","Y","B","C","M","D","O","P","S","T","L","A","W"],"range":["#00ff00","#ff0000","#000000","#ffff00","#0000ff","#00ffff","#ff00ff","#006400","#ffcc00","#ffb6c1","#c0c0c0","#3aa56f","#a4f4a4","#ffb066","#ffffff"]}}}},
{"data":{"values":[{"x":73.3,"v":9570.17,"t":"9.570,17"},{"x":73.3,"v":9437.63,"t":"9.437,63"},{"x":73.3,"v":9358.34,"t":"9.358,34"}]},"mark":{"type":"text","align":"left","baseline":"middle","fill":"white","fontWeight":"bold","fontSize":14},"encoding":{"x":{"field":"x","type":"quantitative"},"y":{"field":"v","type":"quantitative"},"text":{"field":"t"}}}
]},
{"width":1141,"height":742,"encoding":{"x":{"field":"i","type":"quantitative","axis":null,"scale":{"domain":[-0.23,72.58],"nice":false,"zero":false,"padding":0}}},
"layer":[
{"data":{"name":"main"},"transform":[{"filter":"datum.i<=40"}],"mark":{"type":"rule","stroke":"#ff00ff","strokeWidth":1,"strokeDash":[1.5,2],"clip":true},"encoding":{"y":{"field":"M","type":"quantitative","scale":{"domain":[8875,9710],"nice":false,"zero":false,"padding":0},"axis":{"title":null,"orient":"right","values":[8900,8925,8950,8975,9000,9025,9050,9075,9100,9125,9150,9175,9200,9225,9250,9275,9300,9325,9350,9375,9400,9425,9450,9475,9500,9525,9550,9575,9600,9625,9650,9675,9700],"tickSize":4,"tickColor":"#333","domainColor":"#555","domainWidth":2,"labelPadding":4,"labelColor":"#222","labelFont":"Liberation Sans","labelFontWeight":"bold","labelFontSize":13,"labelOverlap":false,"labelExpr":"(datum.value%50==0&&datum.value<9700)?replace(replace(replace(format(datum.value,',.2f'),',','#'),'.',','),'#','.'):''"}},"y2":{"field":"N"}}},
{"data":{"name":"main"},"transform":[{"filter":"datum.i>=42"}],"mark":{"type":"rule","stroke":"#00ee00","strokeWidth":1,"strokeDash":[1.5,2],"clip":true},"encoding":{"y":{"field":"M","type":"quantitative"},"y2":{"field":"N"}}},
{"data":{"name":"main"},"transform":[{"filter":"datum.i<=42"}],"mark":{"type":"line","stroke":"#bdbdbd","strokeWidth":1.2,"clip":true},"encoding":{"y":{"field":"a","type":"quantitative"}}},
{"data":{"name":"main"},"mark":{"type":"line","stroke":"#0000ff","strokeWidth":1,"strokeDash":[3,3],"clip":true},"encoding":{"y":{"field":"d","type":"quantitative"}}},
{"data":{"name":"main"},"mark":{"type":"line","stroke":"#ff2020","strokeWidth":1,"strokeDash":[3,3],"clip":true},"encoding":{"y":{"field":"e","type":"quantitative"}}},
{"data":{"name":"main"},"mark":{"type":"line","stroke":"#10c010","strokeWidth":1,"strokeDash":[3,3],"clip":true},"encoding":{"y":{"field":"g","type":"quantitative"}}},
{"data":{"name":"main"},"mark":{"type":"line","stroke":"#ff40ff","strokeWidth":1.3,"clip":true},"encoding":{"y":{"field":"M","type":"quantitative"}}},
{"data":{"name":"main"},"mark":{"type":"line","stroke":"#20f020","strokeWidth":1.3,"clip":true},"encoding":{"y":{"field":"N","type":"quantitative"}}},
{"data":{"name":"main"},"mark":{"type":"line","stroke":"#ff0000","strokeWidth":2.6,"clip":true},"encoding":{"y":{"field":"R","type":"quantitative"}}},
{"data":{"name":"main"},"mark":{"type":"line","stroke":"#0000ff","strokeWidth":2.6,"clip":true},"encoding":{"y":{"field":"B","type":"quantitative"}}},
{"data":{"name":"main"},"mark":{"type":"rule","strokeWidth":1.3,"clip":true},"encoding":{"y":{"field":"h","type":"quantitative"},"y2":{"field":"l"},"stroke":{"field":"k","type":"nominal","scale":{"domain":["G","R","K"],"range":["#20f020","#ff2828","#222222"]}}}},
{"data":{"name":"main"},"mark":{"type":"bar","size":10,"orient":"vertical","strokeWidth":1.5,"clip":true},"encoding":{"y":{"field":"t","type":"quantitative"},"y2":{"field":"b"},"fill":{"field":"f","type":"nominal","scale":{"domain":["G","R","K","Y","B","C","M","D","O","P","S","T","L","A","W"],"range":["#00ff00","#ff0000","#000000","#ffff00","#0000ff","#00ffff","#ff00ff","#006400","#ffcc00","#ffb6c1","#c0c0c0","#3aa56f","#a4f4a4","#ffb066","#ffffff"]}},"stroke":{"field":"k","type":"nominal","scale":{"domain":["G","R","K"],"range":["#20f020","#ff2828","#222222"]}}}},
{"data":{"name":"dots"},"transform":[{"filter":"datum.g=='s'"}],"mark":{"type":"point","filled":true,"size":22,"opacity":1,"fill":"#000000"},"encoding":{"y":{"field":"v","type":"quantitative"}}},
{"data":{"name":"dots"},"transform":[{"filter":"datum.g=='m'"}],"mark":{"type":"point","filled":true,"size":95,"opacity":1},"encoding":{"y":{"field":"v","type":"quantitative"},"fill":{"field":"c","type":"nominal","scale":{"domain":["G","R","K","Y","B","C","M","D","O","P","S","T","L","A","W"],"range":["#00ff00","#ff0000","#000000","#ffff00","#0000ff","#00ffff","#ff00ff","#006400","#ffcc00","#ffb6c1","#c0c0c0","#3aa56f","#a4f4a4","#ffb066","#ffffff"]}}}},
{"data":{"name":"dots"},"transform":[{"filter":"datum.g=='l'"}],"mark":{"type":"point","filled":true,"size":200,"opacity":1},"encoding":{"y":{"field":"v","type":"quantitative"},"fill":{"field":"c","type":"nominal","scale":{"domain":["G","R","K","Y","B","C","M","D","O","P","S","T","L","A","W"],"range":["#00ff00","#ff0000","#000000","#ffff00","#0000ff","#00ffff","#ff00ff","#006400","#ffcc00","#ffb6c1","#c0c0c0","#3aa56f","#a4f4a4","#ffb066","#ffffff"]}}}},
{"data":{"values":[{"i":24,"v":9109},{"i":63,"v":9450}]},"mark":{"type":"point","shape":"M-1,0L1,0M0,-1L0,1","size":260,"stroke":"#006400","strokeWidth":3.5,"opacity":1},"encoding":{"y":{"field":"v","type":"quantitative"}}},
{"data":{"values":[{"i":10,"v":9285},{"i":23,"v":9252}]},"mark":{"type":"point","shape":"M-1,0L1,0M0,-1L0,1","size":200,"stroke":"#ff2020","strokeWidth":2,"opacity":1},"encoding":{"y":{"field":"v","type":"quantitative"}}},
{"data":{"values":[{"x":58.99,"x2":63,"v":9652,"v2":9616},{"x":55.03,"x2":58.99,"v":9578,"v2":9540}]},"mark":{"type":"rule","stroke":"#0000ff","strokeWidth":2},"encoding":{"x":{"field":"x","type":"quantitative"},"x2":{"field":"x2"},"y":{"field":"v","type":"quantitative"},"y2":{"field":"v2"}}},
{"data":{"values":[{"x":52,"v":9656,"t":"Ein Hoch kommt noch"},{"x":52,"v":9594,"t":"Ein Hoch kommt noch"}]},"mark":{"type":"text","baseline":"middle","font":"DejaVu Sans","fontWeight":"bold","fontStyle":"italic","fontSize":17,"fill":"#0000ee"},"encoding":{"x":{"field":"x","type":"quantitative"},"y":{"field":"v","type":"quantitative"},"text":{"field":"t"}}},
{"data":{"values":[{"x":45.1,"v":9107,"t":"GänsemaRRRsch"}]},"mark":{"type":"text","baseline":"middle","font":"DejaVu Sans","fontWeight":"bold","fontStyle":"italic","fontSize":21,"fill":"#00ee00"},"encoding":{"x":{"field":"x","type":"quantitative"},"y":{"field":"v","type":"quantitative"},"text":{"field":"t"}}},
{"data":{"values":[{"x":49.3,"v":9022,"t":"Crocomichi FDAX"}]},"mark":{"type":"text","baseline":"middle","font":"DejaVu Sans","fontWeight":"bold","fontStyle":"italic","fontSize":45,"fill":"#ff00ff"},"encoding":{"x":{"field":"x","type":"quantitative"},"y":{"field":"v","type":"quantitative"},"text":{"field":"t"}}},
{"data":{"values":[{"x":49.1,"v":8960,"t":"DAX Future im 3 Stundenchart"}]},"mark":{"type":"text","baseline":"middle","font":"DejaVu Sans","fontWeight":"bold","fontStyle":"italic","fontSize":26.4,"fill":"#0000ee"},"encoding":{"x":{"field":"x","type":"quantitative"},"y":{"field":"v","type":"quantitative"},"text":{"field":"t"}}},
{"data":{"values":[{"x":-0.23,"x2":77,"v":9708}]},"mark":{"type":"rule","stroke":"#666666","strokeWidth":3},"encoding":{"x":{"field":"x","type":"quantitative"},"x2":{"field":"x2"},"y":{"field":"v","type":"quantitative"}}},
{"data":{"values":[{"x":22.1,"x2":23.7,"v":9692}]},"mark":{"type":"bar","size":16,"orient":"horizontal","fill":"#666666","stroke":"#333333","cornerRadius":2},"encoding":{"x":{"field":"x","type":"quantitative"},"x2":{"field":"x2"},"y":{"field":"v","type":"quantitative"}}},
{"data":{"values":[{"x":28.8,"x2":29.95,"v":9692}]},"mark":{"type":"bar","size":16,"orient":"horizontal","fill":"#ffb0b0","stroke":"#222222","cornerRadius":2},"encoding":{"x":{"field":"x","type":"quantitative"},"x2":{"field":"x2"},"y":{"field":"v","type":"quantitative"}}},
{"data":{"values":[{"x":36.46,"x2":37.49,"v":9692},{"x":38.1,"x2":39.6,"v":9692}]},"mark":{"type":"bar","size":16,"orient":"horizontal","fill":"#ffffff","stroke":"#222222","cornerRadius":2},"encoding":{"x":{"field":"x","type":"quantitative"},"x2":{"field":"x2"},"y":{"field":"v","type":"quantitative"}}},
{"data":{"values":[{"x":-0.23,"v":9691,"t":"Prozyklische Signale Abstandstest 3"},{"x":15.47,"v":9691,"t":"1 ICE Analyse"},{"x":40.1,"v":9691,"t":"EW-Croc Longsignale Abstandstest 3"},{"x":56.2,"v":9691,"t":"EW-Croc Shortsignale Abstandstest 3"},{"x":38.3,"v":9691,"t":"R▾"},{"x":36.6,"v":9691,"t":"▾"},{"x":29.0,"v":9691,"t":"|▾"}]},"mark":{"type":"text","align":"left","baseline":"middle","fontSize":14.2,"fill":"#222222"},"encoding":{"x":{"field":"x","type":"quantitative"},"y":{"field":"v","type":"quantitative"},"text":{"field":"t"}}},
{"data":{"values":[{"x":24.21,"v":9691,"t":"AX M4-DT"},{"x":30.4,"v":9691,"t":"DAX  3 Hours"}]},"mark":{"type":"text","align":"left","baseline":"middle","fontSize":14.2,"fill":"#aaaaaa"},"encoding":{"x":{"field":"x","type":"quantitative"},"y":{"field":"v","type":"quantitative"},"text":{"field":"t"}}},
{"data":{"values":[{"x":22.9,"v":9691,"t":"VP"}]},"mark":{"type":"text","align":"center","baseline":"middle","fontSize":13,"fill":"#dddddd"},"encoding":{"x":{"field":"x","type":"quantitative"},"y":{"field":"v","type":"quantitative"},"text":{"field":"t"}}},
{"data":{"values":[{"x":73.1,"x2":79,"v":9639,"c":"R"},{"x":73.1,"x2":79,"v":9537.25,"c":"B"},{"x":73.1,"x2":79,"v":9481.75,"c":"G"},{"x":73.1,"x2":79,"v":9426.25,"c":"R"}]},"mark":{"type":"bar","size":17,"orient":"horizontal"},"encoding":{"x":{"field":"x","type":"quantitative"},"x2":{"field":"x2"},"y":{"field":"v","type":"quantitative"},"fill":{"field":"c","type":"nominal","scale":{"domain":["G","R","K","Y","B","C","M","D","O","P","S","T","L","A","W"],"range":["#00ff00","#ff0000","#000000","#ffff00","#0000ff","#00ffff","#ff00ff","#006400","#ffcc00","#ffb6c1","#c0c0c0","#3aa56f","#a4f4a4","#ffb066","#ffffff"]}}}},
{"data":{"values":[{"x":73,"v":9639,"c":"R"},{"x":73,"v":9537.25,"c":"B"},{"x":73,"v":9481.75,"c":"G"},{"x":73,"v":9426.25,"c":"R"}]},"mark":{"type":"point","shape":"triangle-left","filled":true,"size":110,"opacity":1},"encoding":{"x":{"field":"x","type":"quantitative"},"y":{"field":"v","type":"quantitative"},"fill":{"field":"c","type":"nominal","scale":{"domain":["G","R","K","Y","B","C","M","D","O","P","S","T","L","A","W"],"range":["#00ff00","#ff0000","#000000","#ffff00","#0000ff","#00ffff","#ff00ff","#006400","#ffcc00","#ffb6c1","#c0c0c0","#3aa56f","#a4f4a4","#ffb066","#ffffff"]}}}},
{"data":{"values":[{"x":73.3,"v":9639,"t":"9.639,00"},{"x":73.3,"v":9537.25,"t":"9.537,25"},{"x":73.3,"v":9481.75,"t":"9.481,75"},{"x":73.3,"v":9426.25,"t":"9.426,25"}]},"mark":{"type":"text","align":"left","baseline":"middle","fill":"white","fontWeight":"bold","fontSize":14},"encoding":{"x":{"field":"x","type":"quantitative"},"y":{"field":"v","type":"quantitative"},"text":{"field":"t"}}}
]},
{"width":1141,"height":106,"encoding":{"x":{"field":"i","type":"quantitative","axis":null,"scale":{"domain":[-0.23,72.58],"nice":false,"zero":false,"padding":0}}},
"layer":[
{"data":{"name":"stat"},"mark":{"type":"point","filled":true,"size":110,"opacity":1,"clip":true},"encoding":{"y":{"datum":1.2,"type":"quantitative","scale":{"domain":[0.566,1.5125],"nice":false,"zero":false,"padding":0},"axis":{"title":null,"orient":"right","values":[0.7,0.8,0.9,1.0,1.1,1.2],"tickSize":4,"tickColor":"#333","domainColor":"#555","domainWidth":2,"labels":false}},"fill":{"field":"s","type":"nominal","scale":{"domain":["G","R","K","Y","B","C","M","D","O","P","S","T","L","A","W"],"range":["#00ff00","#ff0000","#000000","#ffff00","#0000ff","#00ffff","#ff00ff","#006400","#ffcc00","#ffb6c1","#c0c0c0","#3aa56f","#a4f4a4","#ffb066","#ffffff"]}}}},
{"data":{"name":"stat"},"mark":{"type":"point","filled":true,"size":110,"opacity":1,"clip":true},"encoding":{"y":{"datum":1.12,"type":"quantitative"},"fill":{"field":"k","type":"nominal","scale":{"domain":["G","R","K","Y","B","C","M","D","O","P","S","T","L","A","W"],"range":["#00ff00","#ff0000","#000000","#ffff00","#0000ff","#00ffff","#ff00ff","#006400","#ffcc00","#ffb6c1","#c0c0c0","#3aa56f","#a4f4a4","#ffb066","#ffffff"]}}}},
{"data":{"name":"stat"},"mark":{"type":"point","filled":true,"size":110,"opacity":1,"clip":true},"encoding":{"y":{"datum":1.02,"type":"quantitative"},"fill":{"field":"w","type":"nominal","scale":{"domain":["G","R","K","Y","B","C","M","D","O","P","S","T","L","A","W"],"range":["#00ff00","#ff0000","#000000","#ffff00","#0000ff","#00ffff","#ff00ff","#006400","#ffcc00","#ffb6c1","#c0c0c0","#3aa56f","#a4f4a4","#ffb066","#ffffff"]}}}},
{"data":{"name":"stat"},"mark":{"type":"point","filled":true,"size":110,"opacity":1,"clip":true},"encoding":{"y":{"datum":0.93,"type":"quantitative"},"fill":{"field":"t","type":"nominal","scale":{"domain":["G","R","K","Y","B","C","M","D","O","P","S","T","L","A","W"],"range":["#00ff00","#ff0000","#000000","#ffff00","#0000ff","#00ffff","#ff00ff","#006400","#ffcc00","#ffb6c1","#c0c0c0","#3aa56f","#a4f4a4","#ffb066","#ffffff"]}}}},
{"data":{"name":"stat"},"mark":{"type":"point","filled":true,"size":110,"opacity":1,"clip":true},"encoding":{"y":{"datum":0.83,"type":"quantitative"},"fill":{"field":"e","type":"nominal","scale":{"domain":["G","R","K","Y","B","C","M","D","O","P","S","T","L","A","W"],"range":["#00ff00","#ff0000","#000000","#ffff00","#0000ff","#00ffff","#ff00ff","#006400","#ffcc00","#ffb6c1","#c0c0c0","#3aa56f","#a4f4a4","#ffb066","#ffffff"]}}}},
{"data":{"name":"stat"},"mark":{"type":"point","filled":true,"size":110,"opacity":1,"clip":true},"encoding":{"y":{"datum":0.7,"type":"quantitative"},"fill":{"field":"v","type":"nominal","scale":{"domain":["G","R","K","Y","B","C","M","D","O","P","S","T","L","A","W"],"range":["#00ff00","#ff0000","#000000","#ffff00","#0000ff","#00ffff","#ff00ff","#006400","#ffcc00","#ffb6c1","#c0c0c0","#3aa56f","#a4f4a4","#ffb066","#ffffff"]}}}},
{"data":{"values":[{"x":-0.23,"v":1.37,"t":"Von oben: Status / Kerzenfarbe / Wolkenfarbe / Trend / Setter / Welle"}]},"mark":{"type":"text","align":"left","baseline":"middle","fontSize":14.2,"fill":"#222222"},"encoding":{"x":{"field":"x","type":"quantitative"},"y":{"field":"v","type":"quantitative"},"text":{"field":"t"}}},
{"data":{"values":[{"x":-0.23,"x2":77,"v":1.497}]},"mark":{"type":"rule","stroke":"#666666","strokeWidth":3},"encoding":{"x":{"field":"x","type":"quantitative"},"x2":{"field":"x2"},"y":{"field":"v","type":"quantitative"}}},
{"data":{"values":[{"x":73.1,"x2":79,"v":1.2,"c":"G"},{"x":73.1,"x2":79,"v":1.12,"c":"K"},{"x":73.1,"x2":79,"v":1.02,"c":"G"},{"x":73.1,"x2":79,"v":0.93,"c":"G"},{"x":73.1,"x2":79,"v":0.83,"c":"G"},{"x":73.1,"x2":79,"v":0.7,"c":"G"}]},"mark":{"type":"bar","size":16,"orient":"horizontal"},"encoding":{"x":{"field":"x","type":"quantitative"},"x2":{"field":"x2"},"y":{"field":"v","type":"quantitative"},"fill":{"field":"c","type":"nominal","scale":{"domain":["G","R","K","Y","B","C","M","D","O","P","S","T","L","A","W"],"range":["#00ff00","#ff0000","#000000","#ffff00","#0000ff","#00ffff","#ff00ff","#006400","#ffcc00","#ffb6c1","#c0c0c0","#3aa56f","#a4f4a4","#ffb066","#ffffff"]}}}},
{"data":{"values":[{"x":73,"v":1.2,"c":"G"},{"x":73,"v":1.12,"c":"K"},{"x":73,"v":1.02,"c":"G"},{"x":73,"v":0.93,"c":"G"},{"x":73,"v":0.83,"c":"G"},{"x":73,"v":0.7,"c":"G"}]},"mark":{"type":"point","shape":"triangle-left","filled":true,"size":100,"opacity":1},"encoding":{"x":{"field":"x","type":"quantitative"},"y":{"field":"v","type":"quantitative"},"fill":{"field":"c","type":"nominal","scale":{"domain":["G","R","K","Y","B","C","M","D","O","P","S","T","L","A","W"],"range":["#00ff00","#ff0000","#000000","#ffff00","#0000ff","#00ffff","#ff00ff","#006400","#ffcc00","#ffb6c1","#c0c0c0","#3aa56f","#a4f4a4","#ffb066","#ffffff"]}}}},
{"data":{"values":[{"x":73.3,"v":1.2,"t":"1,2000"},{"x":73.3,"v":1.12,"t":"1,1000"},{"x":73.3,"v":1.02,"t":"1,0000"},{"x":73.3,"v":0.93,"t":"0,9000"},{"x":73.3,"v":0.83,"t":"0,8000"},{"x":73.3,"v":0.7,"t":"0,7000"}]},"mark":{"type":"text","align":"left","baseline":"middle","fill":"white","fontWeight":"bold","fontSize":14},"encoding":{"x":{"field":"x","type":"quantitative"},"y":{"field":"v","type":"quantitative"},"text":{"field":"t"}}}
]},
{"width":1141,"height":222,"encoding":{"x":{"field":"i","type":"quantitative","scale":{"domain":[-0.23,72.58],"nice":false,"zero":false,"padding":0}}},
"layer":[
{"data":{"name":"dna"},"transform":[{"filter":"datum.g=='l'"}],"mark":{"type":"point","filled":true,"size":190,"opacity":1,"clip":true},"encoding":{"x":{"field":"i","type":"quantitative","scale":{"domain":[-0.23,72.58],"nice":false,"zero":false,"padding":0},"axis":{"title":null,"values":[3,8,13,18,23,28,33,38,43,48,53,58,63,68],"tickSize":4,"tickColor":"#000","domainColor":"#000","domainWidth":2,"labelOverlap":false,"labelOffset":9,"labelPadding":0,"labelColor":"#111","labelFont":"Liberation Sans","labelFontWeight":"bold","labelFontSize":12.5,"labelExpr":"{'3':'12','8':'13','13':'14','18':'17','23':'18','28':'19','33':'20','38':'21','43':'24','48':'25','53':'26','58':'27','63':'28','68':'31'}[datum.value]||''"}},"y":{"field":"v","type":"quantitative","scale":{"domain":[-6,6],"nice":false,"zero":false,"padding":0},"axis":{"title":null,"orient":"right","values":[-5,-4,-3,-2,-1,0,1,2,3,4,5],"tickSize":4,"tickColor":"#333","domainColor":"#555","domainWidth":2,"labels":false}},"fill":{"field":"c","type":"nominal","scale":{"domain":["G","R","K","Y","B","C","M","D","O","P","S","T","L","A","W"],"range":["#00ff00","#ff0000","#000000","#ffff00","#0000ff","#00ffff","#ff00ff","#006400","#ffcc00","#ffb6c1","#c0c0c0","#3aa56f","#a4f4a4","#ffb066","#ffffff"]}}}},
{"data":{"name":"dna"},"transform":[{"filter":"datum.g=='s'"}],"mark":{"type":"point","filled":true,"size":80,"opacity":1,"clip":true},"encoding":{"y":{"field":"v","type":"quantitative"},"fill":{"field":"c","type":"nominal","scale":{"domain":["G","R","K","Y","B","C","M","D","O","P","S","T","L","A","W"],"range":["#00ff00","#ff0000","#000000","#ffff00","#0000ff","#00ffff","#ff00ff","#006400","#ffcc00","#ffb6c1","#c0c0c0","#3aa56f","#a4f4a4","#ffb066","#ffffff"]}}}},
{"data":{"name":"main"},"transform":[{"filter":"datum.i<=67"}],"mark":{"type":"rule","stroke":"#66ee66","strokeWidth":1,"strokeDash":[1.5,2],"clip":true},"encoding":{"y":{"datum":0,"type":"quantitative"},"y2":{"datum":4}}},
{"data":{"name":"main"},"transform":[{"filter":"datum.i<=67"}],"mark":{"type":"rule","stroke":"#ffa850","strokeWidth":1,"strokeDash":[1.5,2],"clip":true},"encoding":{"y":{"datum":0,"type":"quantitative"},"y2":{"datum":-4}}},
{"data":{"name":"main"},"transform":[{"filter":"datum.i<=67"}],"mark":{"type":"point","filled":true,"size":4,"opacity":1,"fill":"#000000","clip":true},"encoding":{"y":{"datum":0,"type":"quantitative"}}},
{"data":{"values":[{"i":2},{"i":5},{"i":7},{"i":10},{"i":12},{"i":15},{"i":17},{"i":20},{"i":22},{"i":25},{"i":27},{"i":30},{"i":32},{"i":35},{"i":37},{"i":40},{"i":42},{"i":45},{"i":47},{"i":50},{"i":52},{"i":55},{"i":57},{"i":60},{"i":62},{"i":65},{"i":67},{"i":70},{"i":72}]},"mark":{"type":"rule","stroke":"#000000","strokeWidth":1},"encoding":{"y":{"datum":-6,"type":"quantitative"},"y2":{"datum":-6.2}}},
{"data":{"values":[{"x":-0.23,"x2":67,"v":3},{"x":-0.23,"x2":67,"v":2},{"x":-0.23,"x2":67,"v":1}]},"mark":{"type":"rule","stroke":"#66ee66","strokeWidth":1,"strokeDash":[4,3]},"encoding":{"x":{"field":"x","type":"quantitative"},"x2":{"field":"x2"},"y":{"field":"v","type":"quantitative"}}},
{"data":{"values":[{"x":-0.23,"x2":67,"v":-3},{"x":-0.23,"x2":67,"v":-2},{"x":-0.23,"x2":67,"v":-1}]},"mark":{"type":"rule","stroke":"#ffa850","strokeWidth":1,"strokeDash":[4,3]},"encoding":{"x":{"field":"x","type":"quantitative"},"x2":{"field":"x2"},"y":{"field":"v","type":"quantitative"}}},
{"data":{"values":[{"x":-0.23,"x2":67,"v":4}]},"mark":{"type":"rule","stroke":"#66ff66","strokeWidth":2},"encoding":{"x":{"field":"x","type":"quantitative"},"x2":{"field":"x2"},"y":{"field":"v","type":"quantitative"}}},
{"data":{"values":[{"x":-0.23,"x2":67,"v":-4}]},"mark":{"type":"rule","stroke":"#ff5555","strokeWidth":2},"encoding":{"x":{"field":"x","type":"quantitative"},"x2":{"field":"x2"},"y":{"field":"v","type":"quantitative"}}},
{"data":{"values":[{"x":-0.23,"v":5.135,"t":"ICE DNA Code"}]},"mark":{"type":"text","align":"left","baseline":"middle","fontSize":13.5,"fill":"#222222"},"encoding":{"x":{"field":"x","type":"quantitative"},"y":{"field":"v","type":"quantitative"},"text":{"field":"t"}}},
{"data":{"values":[{"x":-0.23,"x2":77,"v":5.9}]},"mark":{"type":"rule","stroke":"#666666","strokeWidth":3},"encoding":{"x":{"field":"x","type":"quantitative"},"x2":{"field":"x2"},"y":{"field":"v","type":"quantitative"}}},
{"data":{"values":[{"x":73.3,"v":-6,"t":"-6,00"}]},"mark":{"type":"text","align":"left","baseline":"middle","fill":"#222222","fontWeight":"bold","fontSize":13},"encoding":{"x":{"field":"x","type":"quantitative"},"y":{"field":"v","type":"quantitative"},"text":{"field":"t"}}},
{"data":{"values":[{"x":73.1,"x2":79,"v":-6.4}]},"mark":{"type":"bar","size":18,"orient":"horizontal","fill":"#ffffff"},"encoding":{"x":{"field":"x","type":"quantitative"},"x2":{"field":"x2"},"y":{"field":"v","type":"quantitative"}}},
{"data":{"values":[{"x":73.1,"x2":79,"v":4,"c":"G"},{"x":73.1,"x2":79,"v":3,"c":"L"},{"x":73.1,"x2":79,"v":2,"c":"L"},{"x":73.1,"x2":79,"v":1,"c":"L"},{"x":73.1,"x2":79,"v":0,"c":"K"},{"x":73.1,"x2":79,"v":-1,"c":"A"},{"x":73.1,"x2":79,"v":-2,"c":"A"},{"x":73.1,"x2":79,"v":-3,"c":"A"},{"x":73.1,"x2":79,"v":-4,"c":"R"}]},"mark":{"type":"bar","size":17,"orient":"horizontal"},"encoding":{"x":{"field":"x","type":"quantitative"},"x2":{"field":"x2"},"y":{"field":"v","type":"quantitative"},"fill":{"field":"c","type":"nominal","scale":{"domain":["G","R","K","Y","B","C","M","D","O","P","S","T","L","A","W"],"range":["#00ff00","#ff0000","#000000","#ffff00","#0000ff","#00ffff","#ff00ff","#006400","#ffcc00","#ffb6c1","#c0c0c0","#3aa56f","#a4f4a4","#ffb066","#ffffff"]}}}},
{"data":{"values":[{"x":73,"v":4,"c":"G"},{"x":73,"v":3,"c":"L"},{"x":73,"v":2,"c":"L"},{"x":73,"v":1,"c":"L"},{"x":73,"v":0,"c":"K"},{"x":73,"v":-1,"c":"A"},{"x":73,"v":-2,"c":"A"},{"x":73,"v":-3,"c":"A"},{"x":73,"v":-4,"c":"R"}]},"mark":{"type":"point","shape":"triangle-left","filled":true,"size":100,"opacity":1},"encoding":{"x":{"field":"x","type":"quantitative"},"y":{"field":"v","type":"quantitative"},"fill":{"field":"c","type":"nominal","scale":{"domain":["G","R","K","Y","B","C","M","D","O","P","S","T","L","A","W"],"range":["#00ff00","#ff0000","#000000","#ffff00","#0000ff","#00ffff","#ff00ff","#006400","#ffcc00","#ffb6c1","#c0c0c0","#3aa56f","#a4f4a4","#ffb066","#ffffff"]}}}},
{"data":{"values":[{"x":73.3,"v":4,"t":"4,00"},{"x":73.3,"v":3,"t":"3,00"},{"x":73.3,"v":2,"t":"2,00"},{"x":73.3,"v":1,"t":"1,00"},{"x":73.3,"v":0,"t":"0,00"},{"x":73.3,"v":-1,"t":"-1,00"},{"x":73.3,"v":-2,"t":"-2,00"},{"x":73.3,"v":-3,"t":"-3,00"},{"x":73.3,"v":-4,"t":"-4,00"}]},"mark":{"type":"text","align":"left","baseline":"middle","fill":"white","fontWeight":"bold","fontSize":14},"encoding":{"x":{"field":"x","type":"quantitative"},"y":{"field":"v","type":"quantitative"},"text":{"field":"t"}}}
]}
]}
